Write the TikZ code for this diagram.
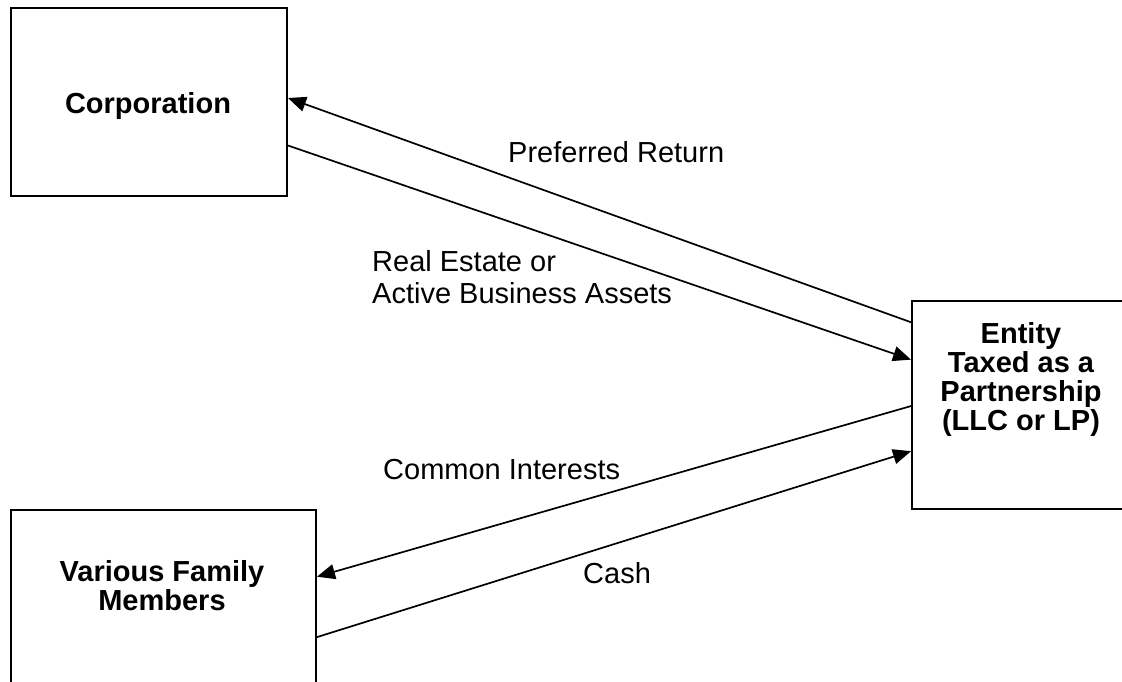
\documentclass[tikz,border=0pt]{standalone}
\usepackage{fontspec}
\setmainfont{Liberation Sans}
\usetikzlibrary{arrows.meta,calc}
\tikzset{
  box/.style={draw=black, line width=2pt, fill=none, inner sep=0pt},
  btxt/.style={font=\fontsize{29}{29}\selectfont\bfseries, inner sep=0pt, align=center},
  lbl/.style={font=\fontsize{29}{32}\selectfont, inner sep=0pt},
  arr/.style={line width=1.7pt, -{Triangle[length=18pt,width=15pt]}},
  ln/.style={line width=1.7pt}
}
\begin{document}
\begin{tikzpicture}[x=1pt,y=-1pt]
\useasboundingbox (0,0) rectangle (1122,682);
\clip (0,0) rectangle (1122,682);
% boxes
\node[box, minimum width=276pt, minimum height=188pt] (corp) at (149,102) {};
\node[box, minimum width=220pt, minimum height=208pt] (ent) at (1022,405) {};
\node[box, minimum width=305pt, minimum height=220pt] (fam) at (163.5,620) {};
% box texts
\node[btxt, anchor=base] (corpT) at (148,114) {Corporation};
\node[btxt] (entT) at (1021,379.5) {Entity\\Taxed as a\\Partnership\\(LLC or LP)};
\node[btxt] (famT) at (162,586) {Various Family\\Members};
% connectors
\draw[arr] ($(ent.north west)!0.106!(ent.south west)$) -- ($(corp.north east)!0.479!(corp.south east)$);
\draw[arr] ($(corp.north east)!0.729!(corp.south east)$) -- ($(ent.north west)!0.284!(ent.south west)$);
\draw[arr] ($(ent.north west)!0.505!(ent.south west)$) -- ($(fam.north east)!0.305!(fam.south east)$);
\draw[arr] ($(fam.north east)!0.577!(fam.south east)$) -- ($(ent.north west)!0.72!(ent.south west)$);
% labels
\node[lbl, anchor=base west] (lPR) at (508,163) {Preferred Return};
\node[lbl, anchor=west, align=left] (lRE) at (372,277.6) {Real Estate or\\Active Business Assets};
\node[lbl, anchor=base west] (lCI) at (383,479) {Common Interests};
\node[lbl, anchor=base west] (lCa) at (583,583) {Cash};
\end{tikzpicture}
\end{document}
